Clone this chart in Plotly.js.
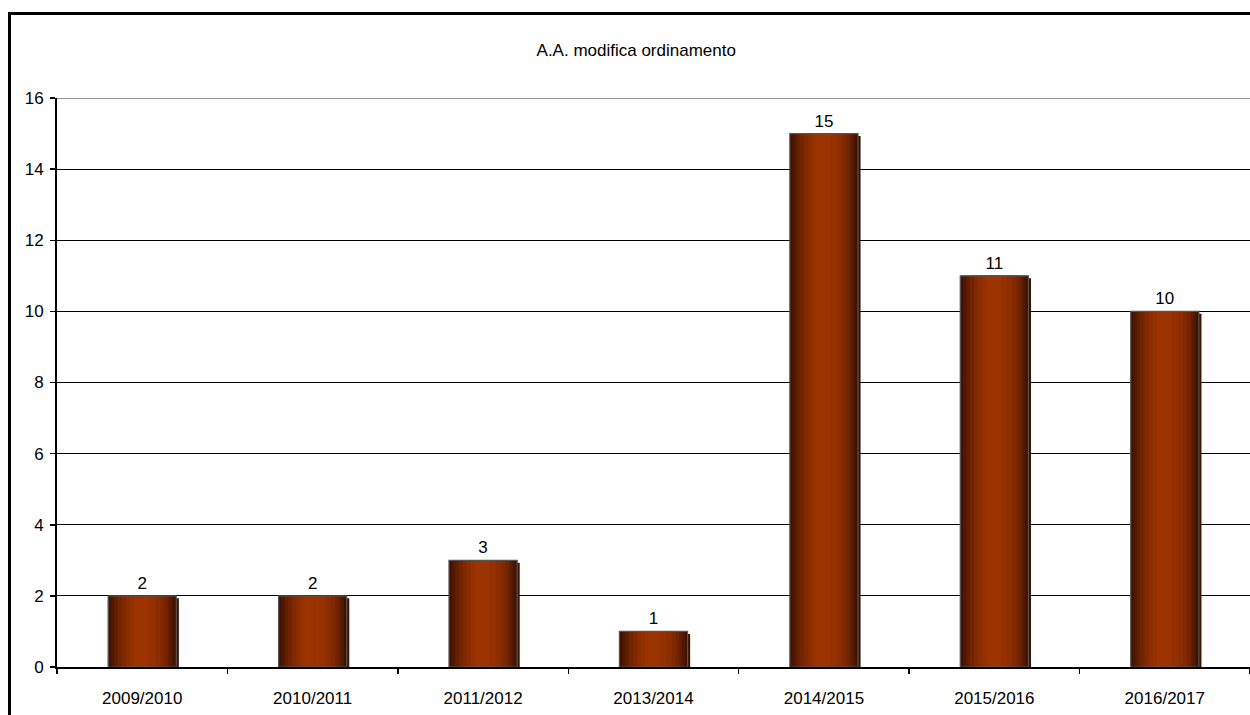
<!DOCTYPE html>
<html><head><meta charset="utf-8">
<script src="https://cdn.plot.ly/plotly-3.0.1.min.js"></script>
<style>
html,body{margin:0;padding:0;background:#fff;overflow:hidden}
#chart{position:absolute;left:0;top:0;width:1250px;height:715px}
#frame{position:absolute;left:8px;top:12px;width:1250px;height:710px;border-top:3px solid #000;border-left:3px solid #000;pointer-events:none}
</style></head>
<body>
<div id="chart"></div>
<div id="frame"></div>
<script>
const categories = ["2009/2010","2010/2011","2011/2012","2013/2014","2014/2015","2015/2016","2016/2017"];
const values = [2, 2, 3, 1, 15, 11, 10];
const yTicks = [0, 2, 4, 6, 8, 10, 12, 14, 16];
const chartTitle = "A.A. modifica ordinamento";

const FONT = "Liberation Sans, Arial, sans-serif";
const W = 0.4;
const traces = [];
// shadow
traces.push({type:'bar', x:categories, y:values, base:-0.07, width:W, offset:-W/2+0.015,
  marker:{color:'#3a1200', line:{width:0}}, hoverinfo:'skip', showlegend:false});
// gradient layers (cylinder look)
const layers = [
  {l:0.00, r:1.00, c:'#3f1300'},
  {l:0.04, r:0.96, c:'#501800'},
  {l:0.09, r:0.92, c:'#621e00'},
  {l:0.14, r:0.88, c:'#722300'},
  {l:0.20, r:0.83, c:'#802800'},
  {l:0.26, r:0.77, c:'#8c2d00'},
  {l:0.32, r:0.69, c:'#953100'},
  {l:0.38, r:0.60, c:'#9b3400'}
];
layers.forEach((L) => {
  traces.push({type:'bar', x:categories, y:values, width:W*(L.r-L.l), offset:-W/2 + W*L.l,
    marker:{color:L.c, line:{width:0}}, hoverinfo:'skip', showlegend:false});
});
// outline + labels
traces.push({type:'bar', x:categories, y:values, width:W, offset:-W/2,
  marker:{color:'rgba(0,0,0,0)', line:{color:'#555', width:1.2}},
  text:values.map(String), textposition:'outside', cliponaxis:false,
  textfont:{family:FONT, size:17, color:'#000'}, hoverinfo:'skip', showlegend:false});

const layout = {
  width:1250, height:715,
  margin:{l:57, r:0, t:98, b:48, pad:0},
  paper_bgcolor:'#fff', plot_bgcolor:'#fff',
  barmode:'overlay',
  title:{text:chartTitle, x:0.509, xanchor:'center', y:0.93, yanchor:'middle', font:{family:FONT, size:17, color:'#000'}},
  xaxis:{type:'category', showgrid:false, showline:true, linecolor:'#000', linewidth:1.5,
    ticks:'outside', tickson:'boundaries', ticklen:5, tickcolor:'#000', tickwidth:1.5,
    ticklabelstandoff:15,
    tickfont:{family:FONT, size:17, color:'#000'}, range:[-0.5,6.5], fixedrange:true},
  yaxis:{range:[0,16], tickvals:yTicks, ticktext:yTicks.map(String), showgrid:true, gridcolor:'#000', gridwidth:1,
    showline:true, linecolor:'#000', linewidth:2, ticks:'outside', ticklen:5, tickcolor:'#000', tickwidth:1.5,
    ticklabelstandoff:3,
    tickfont:{family:FONT, size:17, color:'#000'}, zeroline:false, fixedrange:true},
  shapes:[{type:'line', xref:'paper', yref:'y', x0:0, x1:1, y0:16, y1:16, line:{color:'#999', width:2}}],
  showlegend:false
};
Plotly.newPlot('chart', traces, layout, {staticPlot:true, displayModeBar:false});
</script>
</body></html>
